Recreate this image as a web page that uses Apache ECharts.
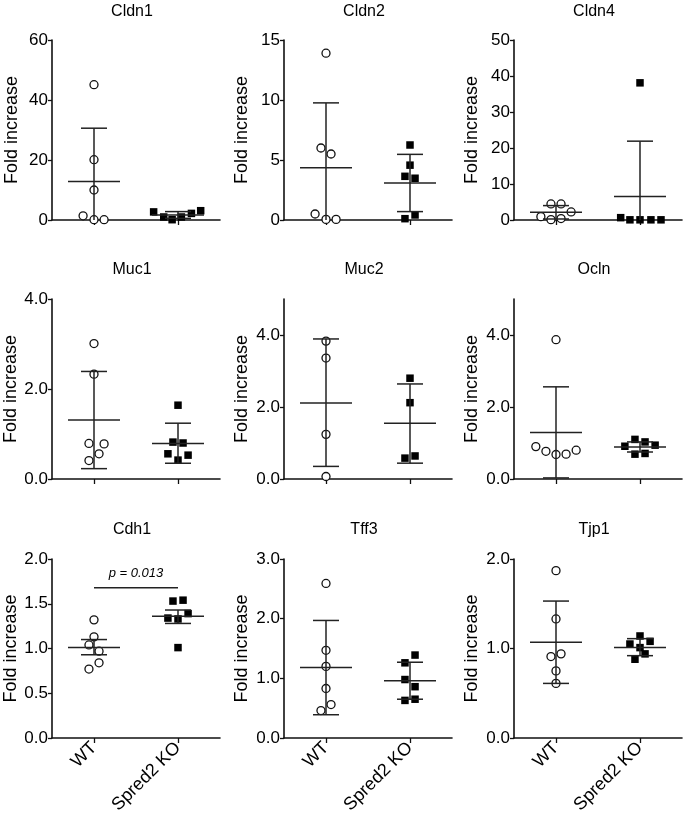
<!DOCTYPE html>
<html><head><meta charset="utf-8">
<script src="https://cdn.jsdelivr.net/npm/echarts@6/dist/echarts.min.js"></script>
<style>html,body{margin:0;padding:0;background:#fff}#c{width:685px;height:821px}</style>
</head><body><div id="c"></div>
<script>
// ---------------- data ----------------
const groups = ['WT', 'Spred2 KO'];
const genes = ['Cldn1', 'Cldn2', 'Cldn4', 'Muc1', 'Muc2', 'Ocln', 'Cdh1', 'Tff3', 'Tjp1'];
const yAxisTitle = 'Fold increase';

const wtValues = [
  [45.1, 20.1, 10.0, 1.4, 0.1, 0.1],
  [13.9, 6.0, 5.5, 0.5, 0.05, 0.05],
  [4.46, 4.46, 2.23, 0.93, 0.1, 0.4],
  [3.01, 2.33, 0.79, 0.78, 0.56, 0.41],
  [3.83, 3.36, 1.24, 0.07],
  [3.87, 0.90, 0.77, 0.68, 0.69, 0.80],
  [1.32, 1.13, 1.04, 0.97, 0.84, 0.77],
  [2.59, 1.47, 1.20, 0.83, 0.46, 0.56],
  [1.87, 1.33, 0.91, 0.94, 0.75, 0.61]
];
const wtJitter = [
  [0, 0, 0, -0.13, 0, 0.12],
  [0, -0.06, 0.06, -0.13, 0, 0.12],
  [-0.06, 0.06, 0.18, -0.18, -0.06, 0.06],
  [0, 0, -0.06, 0.12, 0.06, -0.06],
  [0, 0, 0, 0],
  [0, -0.24, -0.12, 0, 0.12, 0.24],
  [0, 0, -0.06, 0.06, 0.06, -0.06],
  [0, 0, 0, 0, -0.06, 0.06],
  [0, 0, -0.06, 0.06, 0, 0]
];
const koValues = [
  [2.7, 1.0, 0.1, 1.0, 2.2, 3.1],
  [6.25, 4.57, 3.64, 3.48, 0.42, 0.11],
  [38.1, 0.65, 0.05, 0.05, 0.05, 0.05],
  [1.64, 0.82, 0.80, 0.56, 0.53, 0.42],
  [2.80, 2.12, 0.58, 0.64],
  [1.10, 1.03, 0.91, 0.94, 0.69, 0.71],
  [1.53, 1.54, 1.34, 1.33, 1.39, 1.01],
  [1.39, 1.26, 0.98, 0.86, 0.63, 0.65],
  [1.14, 1.05, 1.08, 1.01, 0.94, 0.88]
];
const koJitter = [
  [-0.29, -0.17, -0.07, 0.04, 0.16, 0.27],
  [0, 0, -0.06, 0.06, 0.06, -0.06],
  [0, -0.23, -0.12, 0, 0.13, 0.25],
  [0, -0.06, 0.06, -0.12, 0.12, 0],
  [0, 0, -0.06, 0.06],
  [-0.06, 0.06, -0.18, 0.18, -0.06, 0.06],
  [-0.06, 0.06, -0.12, 0, 0.12, 0],
  [0.06, -0.06, -0.06, 0.06, -0.06, 0.06],
  [0, -0.12, 0.12, 0, 0.06, -0.06]
];
// mean and SD limits as drawn in the figure
const wtMean   = [12.8, 4.35, 2.14, 1.31, 2.11, 1.29, 1.01, 1.18, 1.07];
const wtSdLow  = [-5.0, -1.06, 0.28, 0.23, 0.35, 0.03, 0.93, 0.39, 0.61];
const wtSdHigh = [30.6, 9.76, 4.0, 2.39, 3.89, 2.56, 1.10, 1.97, 1.53];
const koMean   = [1.7, 3.08, 6.5, 0.79, 1.55, 0.89, 1.36, 0.96, 1.01];
const koSdLow  = [0.55, 0.70, -8.9, 0.35, 0.44, 0.75, 1.28, 0.65, 0.92];
const koSdHigh = [2.8, 5.47, 21.9, 1.24, 2.64, 1.03, 1.43, 1.27, 1.11];

const yMax = [60, 15, 50, 4, 5, 5, 2, 3, 2];
const yTickLabels = [
  ['0', '20', '40', '60'],
  ['0', '5', '10', '15'],
  ['0', '10', '20', '30', '40', '50'],
  ['0.0', '2.0', '4.0'],
  ['0.0', '2.0', '4.0'],
  ['0.0', '2.0', '4.0'],
  ['0.0', '0.5', '1.0', '1.5', '2.0'],
  ['0.0', '1.0', '2.0', '3.0'],
  ['0.0', '1.0', '2.0']
];
const pValueGene = 'Cdh1';
const pValueText = 'p = 0.013';
const pValueLevel = 1.68;

// ---------------- layout ----------------
const FONT = '"Liberation Sans", Arial, Helvetica, sans-serif';
const colLeft = [52, 284, 514];
const rowTop = [40, 299, 559];
const rowHeight = [180, 180, 179];
const titleTop = [4, 262, 522];
const nameGapCol = [31, 33, 33];
const GW = 168;
const INK = '#111';

const grids = [], xAxes = [], yAxes = [], series = [], titles = [];

genes.forEach((g, i) => {
  const col = i % 3, row = Math.floor(i / 3);
  grids.push({ left: colLeft[col], top: rowTop[row], width: GW, height: rowHeight[row], containLabel: false });
  titles.push({
    text: g, left: colLeft[col] + GW / 2 - 4, top: titleTop[row], textAlign: 'center', padding: 0,
    textStyle: { fontFamily: FONT, fontSize: 16, fontWeight: 'normal', color: '#000' }
  });
  const showX = row === 2;
  xAxes.push({
    type: 'category', gridIndex: i, data: groups, boundaryGap: true,
    axisLine: { show: true, onZero: false, lineStyle: { color: INK, width: 1.6 } },
    axisTick: { show: true, alignWithLabel: true, length: 5, lineStyle: { color: INK, width: 1.3 } },
    axisLabel: { show: showX, rotate: 45, margin: 7, fontFamily: FONT, fontSize: 18, color: '#000' },
    splitLine: { show: false }
  });
  xAxes.push({ type: 'value', gridIndex: i, min: -0.5, max: 1.5, show: false,
    axisLine: { onZero: false } });
  const tickVals = yTickLabels[i].map(Number);
  yAxes.push({
    type: 'value', gridIndex: i, min: 0, max: yMax[i],
    name: yAxisTitle, nameLocation: 'middle', nameGap: nameGapCol[col],
    nameTextStyle: { fontFamily: FONT, fontSize: 18, color: '#000' },
    axisLine: { show: true, onZero: false, lineStyle: { color: INK, width: 1.6 } },
    axisTick: { show: true, length: 4, customValues: tickVals, lineStyle: { color: INK, width: 1.3 } },
    axisLabel: {
      customValues: tickVals, margin: 4, fontFamily: FONT, fontSize: 17, color: '#000',
      formatter: v => yTickLabels[i][tickVals.indexOf(v)]
    },
    splitLine: { show: false }
  });
  const xi = 2 * i + 1;
  series.push({
    type: 'scatter', xAxisIndex: xi, yAxisIndex: i, z: 2,
    data: wtValues[i].map((v, k) => [0 + wtJitter[i][k], v]),
    symbol: 'circle', symbolSize: 8,
    itemStyle: { color: '#fff', borderColor: INK, borderWidth: 1.3, opacity: 1 },
    emphasis: { disabled: true }, animation: false
  });
  series.push({
    type: 'scatter', xAxisIndex: xi, yAxisIndex: i, z: 2,
    data: koValues[i].map((v, k) => [1 + koJitter[i][k], v]),
    symbol: 'rect', symbolSize: 7.5,
    itemStyle: { color: '#000', opacity: 1 },
    emphasis: { disabled: true }, animation: false
  });
  series.push({
    type: 'custom', xAxisIndex: xi, yAxisIndex: i, z: 3, animation: false,
    encode: { x: 0, y: 1 },
    data: [[0, wtMean[i], wtSdLow[i], wtSdHigh[i]], [1, koMean[i], koSdLow[i], koSdHigh[i]]],
    renderItem: (params, api) => {
      const x = api.value(0), m = api.value(1), lo = api.value(2), hi = api.value(3);
      const pm = api.coord([x, m]), ph = api.coord([x, hi]), pl = api.coord([x, lo]);
      const bottom = api.coord([x, 0])[1];
      const st = { stroke: '#222', lineWidth: 1.5 };
      const ch = [
        { type: 'line', shape: { x1: pm[0] - 26, y1: pm[1], x2: pm[0] + 26, y2: pm[1] }, style: st },
        { type: 'line', shape: { x1: ph[0] - 13, y1: ph[1], x2: ph[0] + 13, y2: ph[1] }, style: st },
        { type: 'line', shape: { x1: pm[0], y1: ph[1], x2: pm[0], y2: Math.min(pl[1], bottom) }, style: st }
      ];
      if (lo >= 0) ch.push({ type: 'line', shape: { x1: pl[0] - 13, y1: pl[1], x2: pl[0] + 13, y2: pl[1] }, style: st });
      return { type: 'group', children: ch };
    }
  });
  if (g === pValueGene) {
    series.push({
      type: 'custom', xAxisIndex: xi, yAxisIndex: i, z: 3, animation: false,
      encode: { x: 0, y: 1 },
      data: [[0, pValueLevel, 1]],
      renderItem: (params, api) => {
        const a = api.coord([api.value(0), api.value(1)]);
        const b = api.coord([api.value(2), api.value(1)]);
        return { type: 'group', children: [
          { type: 'line', shape: { x1: a[0], y1: a[1], x2: b[0], y2: b[1] }, style: { stroke: '#222', lineWidth: 1.5 } },
          { type: 'text', x: (a[0] + b[0]) / 2, y: a[1] - 8,
            style: { text: pValueText, fontFamily: FONT, fontStyle: 'italic', fontSize: 13, fill: '#000', align: 'center', verticalAlign: 'bottom' } }
        ] };
      }
    });
  }
});

const chart = echarts.init(document.getElementById('c'), null, { renderer: 'canvas' });
chart.setOption({
  animation: false,
  backgroundColor: '#fff',
  title: titles,
  grid: grids,
  xAxis: xAxes,
  yAxis: yAxes,
  series: series
});
</script>
</body></html>
